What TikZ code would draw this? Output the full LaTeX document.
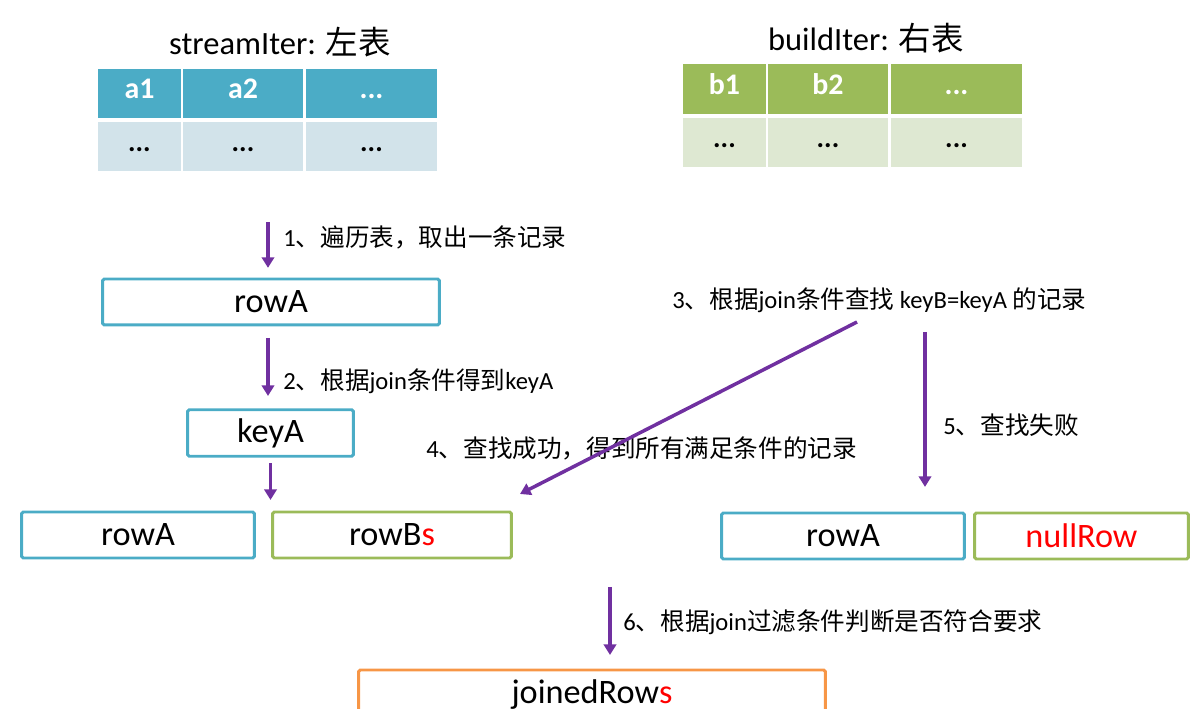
\documentclass[tikz,border=0pt]{standalone}
\usepackage{fontspec}
\setmainfont{Carlito}
\newfontfamily\cjk{Noto Sans CJK SC}
\usetikzlibrary{arrows.meta}
\definecolor{tblue}{HTML}{4BACC6}
\definecolor{tbluelight}{HTML}{D2E3EA}
\definecolor{tgreen}{HTML}{9BBB59}
\definecolor{tgreenlight}{HTML}{DEE8D2}
\definecolor{torange}{HTML}{F79646}
\definecolor{tpurple}{HTML}{7030A0}
\definecolor{tred}{HTML}{FF0000}
\tikzset{
	hcell/.style={fill=#1, text=white, inner sep=0pt, text height=1.5ex, text depth=0.25ex, font=\fontsize{17}{20}\selectfont\bfseries},
	dcell/.style={fill=#1, inner sep=0pt, text height=1.5ex, text depth=0.25ex, font=\fontsize{16}{19}\selectfont\bfseries},
	rowbox/.style={draw=#1, line width=1.7pt, rounded corners=1pt, inner sep=0pt, minimum height=0.92cm, font=\fontsize{19.5}{23}\selectfont},
	steparrow/.style={draw=tpurple, line width=2pt, -{Triangle[length=6pt,width=7pt]}},
	steplabel/.style={anchor=west, inner sep=0pt, font=\fontsize{14}{17}\selectfont},
	tabletitle/.style={inner sep=0pt, font=\fontsize{18.5}{22}\selectfont}
}

\begin{document}
\begin{tikzpicture}[x=0.02cm, y=-0.02cm]
				  \useasboundingbox (0,0) rectangle (1201,709);
				  %TABLE LEFT
				  \node[tabletitle] (tL) at (280,42) {streamIter: {\cjk 左表}};
				  \node[hcell=tblue, minimum width=1.66cm, minimum height=0.98cm] (a1) at (139.5,93.5) {a1};
				  \node[hcell=tblue, minimum width=2.40cm, minimum height=0.98cm] (a2) at (243,93.5) {a2};
				  \node[hcell=tblue, minimum width=2.62cm, minimum height=0.98cm] (a3) at (371.5,93.5) {...};
				  \node[dcell=tbluelight, minimum width=1.66cm, minimum height=0.98cm] (d1) at (139.5,146.5) {...};
				  \node[dcell=tbluelight, minimum width=2.40cm, minimum height=0.98cm] (d2) at (243,146.5) {...};
				  \node[dcell=tbluelight, minimum width=2.62cm, minimum height=0.98cm] (d3) at (371.5,146.5) {...};
				  %TABLE RIGHT
				  \node[tabletitle] (tR) at (866,38) {buildIter: {\cjk 右表}};
				  \node[hcell=tgreen, minimum width=1.66cm, minimum height=1.0cm] (b1) at (724.5,89) {b1};
				  \node[hcell=tgreen, minimum width=2.40cm, minimum height=1.0cm] (b2) at (828,89) {b2};
				  \node[hcell=tgreen, minimum width=2.62cm, minimum height=1.0cm] (b3) at (956.5,89) {...};
				  \node[dcell=tgreenlight, minimum width=1.66cm, minimum height=0.98cm] (e1) at (724.5,142.5) {...};
				  \node[dcell=tgreenlight, minimum width=2.40cm, minimum height=0.98cm] (e2) at (828,142.5) {...};
				  \node[dcell=tgreenlight, minimum width=2.62cm, minimum height=0.98cm] (e3) at (956.5,142.5) {...};

				  %ROWS
				  \node[rowbox=tblue, minimum width=6.74cm] (rowA1) at (271,302) {rowA};
				  \node[rowbox=tblue, minimum width=3.32cm, minimum height=0.93cm] (keyA) at (270.5,433) {keyA};
				  \node[rowbox=tblue, minimum width=4.66cm] (rowA2) at (138,535) {rowA};
				  \node[rowbox=tgreen, minimum width=4.78cm] (rowBs) at (392,535) {rowB\textcolor{tred}{s}};
				  \node[rowbox=tblue, minimum width=4.86cm] (rowA3) at (843,536) {rowA};
				  \node[rowbox=tgreen, minimum width=4.28cm, text=tred] (nullRow) at (1081.5,536) {nullRow};
				  \node[rowbox=torange, minimum width=9.34cm, minimum height=1.0cm] (joinedRows) at (592,695) {\raisebox{2pt}{joinedRow\textcolor{tred}{s}}};

				  %STEPS
				  \node[steplabel] (l1) at (283,237) {1{\cjk 、遍历表，取出一条记录}};
				  \node[steplabel] (l2) at (283,381) {2{\cjk 、根据}join{\cjk 条件得到}keyA};
				  \node[steplabel] (l3) at (672,300) {3{\cjk 、根据}join{\cjk 条件查找} keyB=keyA {\cjk 的记录}};
				  \node[steplabel] (l4) at (426,448) {4{\cjk 、查找成功，得到所有满足条件的记录}};
				  \node[steplabel] (l5) at (943,425) {5{\cjk 、查找失败}};
				  \node[steplabel] (l6) at (623,622) {6{\cjk 、根据}join{\cjk 过滤条件判断是否符合要求}};

				  \coordinate (s1) at (268,222);
				  \coordinate (s2) at (268,338);
				  \coordinate (s4) at (857,322);
				  \coordinate (e4) at (520,494);
				  \coordinate (s5) at (925,332);
				  \coordinate (s6) at (610,587);
				  \draw[steparrow, shorten >=5.5pt] (s1) -- (s1 |- rowA1.north);
				  \draw[steparrow, shorten >=7pt] (s2) -- (s2 |- keyA.north);
				  \draw[steparrow, shorten <=3pt, shorten >=6pt] (keyA.south) -- (keyA.south |- rowBs.north);
				  \draw[steparrow] (s4) -- (e4);
				  \draw[steparrow, shorten >=14pt] (s5) -- (s5 |- rowA3.north);
				  \draw[steparrow, shorten >=7.7pt] (s6) -- (s6 |- joinedRows.north);
\end{tikzpicture}
\end{document}
